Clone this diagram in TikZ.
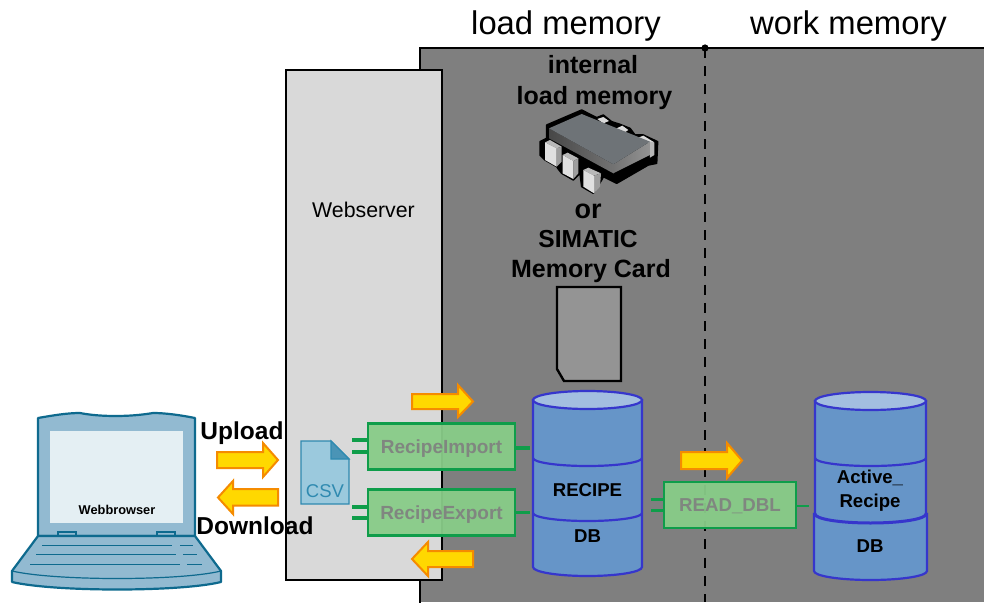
\documentclass[tikz,border=0pt]{standalone}
\usepackage{fontspec}
\setmainfont{Liberation Sans}
\usetikzlibrary{calc}
\definecolor{regiongrey}{HTML}{7F7F7F}
\definecolor{webgrey}{HTML}{D9D9D9}
\definecolor{laptopfill}{HTML}{92BAD1}
\definecolor{laptopline}{HTML}{0E6A8E}
\definecolor{screenfill}{HTML}{E4EFF3}
\definecolor{csvfill}{HTML}{9BC9DD}
\definecolor{csvline}{HTML}{2F8AB0}
\definecolor{csvfold}{HTML}{4A94B6}
\definecolor{arrowfill}{HTML}{FFD800}
\definecolor{arrowline}{HTML}{F58B00}
\definecolor{blockfill}{HTML}{88CC88}
\definecolor{blockline}{HTML}{0F9D4A}
\definecolor{blocktext}{HTML}{808680}
\definecolor{cylfill}{HTML}{6695C8}
\definecolor{cyltop}{HTML}{A3BEE0}
\definecolor{cylline}{HTML}{3636CC}
\definecolor{chiptop}{HTML}{6E7377}
\tikzset{
  x=1pt,y=-1pt,
  big/.style={font=\fontsize{32.8}{34}\selectfont,inner sep=0,text height=23.6pt,text depth=0pt},
  head/.style={font=\fontsize{25}{28}\selectfont\bfseries,inner sep=0,text height=18pt,text depth=0pt},
  arrowlab/.style={font=\fontsize{24.5}{26}\selectfont\bfseries,inner sep=0,text height=17.6pt,text depth=0pt},
  dblab/.style={font=\fontsize{18.6}{20}\selectfont\bfseries,inner sep=0,text height=13.4pt,text depth=0pt},
  block/.style={draw=blockline,line width=2.8pt,fill=blockfill,fill opacity=0.95,text opacity=1,
    text=blocktext,font=\fontsize{19}{21}\selectfont\bfseries,inner sep=0,minimum height=46pt,text height=13.7pt,text depth=0pt},
  stub/.style={draw=blockline,line width=3.6pt},
  yarrow/.style={draw=arrowline,fill=arrowfill,line width=2pt,line join=miter},
  cyl/.style={draw=cylline,fill=cylfill,line width=2.2pt},
  pinf/.style={fill=black!12!white,draw=none},
  pint/.style={fill=black!28!white,draw=none},
  pins/.style={fill=black!38!white,draw=none},
  lap/.style={draw=laptopline,fill=laptopfill,line width=2.2pt,line join=round},
  key/.style={draw=laptopline,line width=0.8pt}
}
\begin{document}
\begin{tikzpicture}
\path[use as bounding box] (0,0) rectangle (984,602);
\clip (0,0) rectangle (984,602);
\fill[white] (0,0) rectangle (984,602);
% memory region
\path[fill=regiongrey] (420,48) rectangle (984,602);
\draw[line width=2.5pt] (420,603) -- (420,48) -- (985,48);
\coordinate (dashtop) at (705,48);
\coordinate (dashbot) at (705,602);
\draw[line width=2.8pt,dash pattern=on 10pt off 8.2pt] (dashtop) -- (dashbot);
\fill (dashtop) circle (3.6pt);
\node[big] (loadm) at (566,23) {load memory};
\node[big] (workm) at (848.5,23) {work memory};
% webserver
\node[draw,line width=2.5pt,fill=webgrey,minimum width=156pt,minimum height=510pt,inner sep=0] (web) at (364,325) {};
\node[inner sep=0,font=\fontsize{21.3}{23}\selectfont,text height=15.3pt,text depth=0pt] (webl) at (363.5,210) {Webserver};
% heading
\node[head] (intl) at (593,65) {internal};
\node[head] (lml) at (594.5,95.5) {load memory};
\node[head,font=\fontsize{27}{28}\selectfont\bfseries] (orl) at (588,209) {or};
\node[head,font=\fontsize{24.6}{28}\selectfont\bfseries] (siml) at (588,238) {SIMATIC};
\node[head] (mcl) at (591,268.5) {Memory Card};
% chip
\begin{scope}[shift={(535,105)},x=0.3333pt,y=-0.3333pt]
\draw[black,fill=black,line width=1.5pt,line join=round] (35,60) -- (140,15) -- (185,38) -- (205,30) -- (230,50) -- (255,58) -- (285,70) -- (300,90) -- (325,90) -- (368,110) -- (365,175) -- (340,180) -- (245,235) -- (205,215) -- (200,225) -- (175,265) -- (140,245) -- (135,205) -- (115,225) -- (80,205) -- (72,195) -- (65,185) -- (30,165) -- (15,150) -- (15,110) -- (35,100) -- cycle;
% back pins
\fill[black!15!white] (187,42) -- (205,36) -- (222,48) -- (205,55) -- cycle;
\fill[black!15!white] (245,70) -- (262,62) -- (280,75) -- (265,85) -- cycle;
\fill[black!15!white] (310,98) -- (325,92) -- (358,112) -- (345,118) -- cycle;
\fill[black!28!white] (345,110) -- (358,113) -- (358,150) -- (345,158) -- cycle;
% front pins
\fill[pint] (30,112) -- (45,105) -- (80,125) -- (65,130) -- cycle;
\fill[pins] (65,130) -- (80,125) -- (80,170) -- (65,185) -- cycle;
\fill[pinf] (30,112) -- (65,130) -- (65,185) -- (30,165) -- cycle;
\fill[pint] (83,150) -- (98,143) -- (130,160) -- (115,168) -- cycle;
\fill[pins] (115,168) -- (130,160) -- (130,205) -- (115,222) -- cycle;
\fill[pinf] (83,150) -- (115,168) -- (115,222) -- (83,205) -- cycle;
\fill[pint] (145,195) -- (160,188) -- (198,205) -- (177,212) -- cycle;
\fill[pins] (177,212) -- (198,205) -- (195,245) -- (177,265) -- cycle;
\fill[pinf] (145,195) -- (177,212) -- (177,265) -- (145,245) -- cycle;
% body
\shade[left color=black!72!white,right color=black!55!white] (42,70) -- (235,178) -- (235,205) -- (42,100) -- cycle;
\shade[left color=black!55!white,right color=black!42!white] (235,178) -- (345,110) -- (345,150) -- (235,205) -- cycle;
\fill[chiptop] (42,70) -- (140,27) -- (345,110) -- (235,178) -- cycle;
\end{scope}
% card
\draw[line width=2.4pt,fill=black!42!white,line join=miter] (557,287) -- (621,287) -- (621,381) -- (564,381) -- (557,369) -- cycle;
% RECIPE cylinder
\path[cyl] (533,400) -- (533,567) arc[start angle=180,end angle=0,x radius=54.5,y radius=9] -- (642,400) -- cycle;
\draw[cylline,line width=2.2pt] (533,458) arc[start angle=180,end angle=0,x radius=54.5,y radius=8];
\draw[cylline,line width=2.2pt] (533,513) arc[start angle=180,end angle=0,x radius=54.5,y radius=8];
\path[cyl,fill=cyltop] (587.5,400) ellipse[x radius=54.5,y radius=9];
\node[dblab] (recipe) at (587.5,490) {RECIPE};
\node[dblab] (db1) at (587.5,536) {DB};
% Active cylinder
\path[cyl] (815,401) -- (815,514) -- (814,514) -- (814,571) arc[start angle=180,end angle=0,x radius=56.5,y radius=9] -- (927,514) -- (926,514) -- (926,401) -- cycle;
\draw[cylline,line width=2.2pt] (815,458) arc[start angle=180,end angle=0,x radius=55.5,y radius=8];
\draw[cylline,line width=3pt] (815,514) arc[start angle=180,end angle=0,x radius=55.5,y radius=9];
\path[cyl,fill=cyltop] (870.5,401) ellipse[x radius=55.5,y radius=9];
\node[dblab] (active) at (870,477) {Active\_};
\node[dblab] (recipe2) at (870,501) {Recipe};
\node[dblab] (db2) at (870,546) {DB};
% blocks
\node[block,minimum width=147pt] (imp) at (441.5,446.5) {RecipeImport};
\node[block,minimum width=147pt] (exp) at (441.5,512.5) {RecipeExport};
\node[block,minimum width=132pt,font=\fontsize{18.7}{21}\selectfont\bfseries] (rd) at (730,505) {READ\_DBL};
\draw[stub] ([yshift=6.5pt]imp.west) -- ++(-15,0);
\draw[stub] ([yshift=-5.5pt]imp.west) -- ++(-15,0);
\draw[stub] ([yshift=-1.5pt]imp.east) -- ++(14,0);
\draw[stub] ([yshift=5.5pt]exp.west) -- ++(-15,0);
\draw[stub] ([yshift=-5.5pt]exp.west) -- ++(-15,0);
\draw[stub] (exp.east) -- ++(14,0);
\draw[stub] ([yshift=5.5pt]rd.west) -- ++(-12,0);
\draw[stub] ([yshift=-5.5pt]rd.west) -- ++(-12,0);
\draw[stub,line width=2.6pt] ([yshift=-1pt]rd.east) -- ++(12,0);
% yellow arrows
\draw[yarrow] (217,452) -- (263,452) -- (263,443) -- (278,460) -- (263,477) -- (263,468) -- (217,468) -- cycle;
\draw[yarrow] (278,489) -- (233,489) -- (233,481) -- (218,497.5) -- (233,514) -- (233,505.5) -- (278,505.5) -- cycle;
\draw[yarrow] (412,394) -- (458,394) -- (458,385) -- (473,401.5) -- (458,417) -- (458,409) -- (412,409) -- cycle;
\draw[yarrow] (473,551) -- (428,551) -- (428,542) -- (412,559) -- (428,576) -- (428,567) -- (473,567) -- cycle;
\draw[yarrow] (681,452) -- (727,452) -- (727,443) -- (742,460.5) -- (727,478) -- (727,469) -- (681,469) -- cycle;
% csv
\draw[draw=csvline,fill=csvfill,line width=1.2pt] (301,441) -- (331,441) -- (349,459) -- (349,504) -- (301,504) -- cycle;
\draw[draw=csvline,fill=csvfold,line width=1.2pt] (331,441) -- (331,459) -- (349,459) -- cycle;
\node[inner sep=0,text=csvline,font=\fontsize{18.5}{20}\selectfont,text height=13.3pt,text depth=0pt] (csv) at (325,491) {CSV};
% laptop
\draw[lap] (38,418) .. controls (55,415) and (68,413) .. (80,413) .. controls (100,417) and (130,417) .. (153,413) .. controls (165,413) and (180,415) .. (195,418) -- (195,536) -- (38,536) -- cycle;
\fill[screenfill] (50,431) rectangle (183,523);
\draw[laptopline,line width=1.2pt] (58,536) -- (58,532) -- (76,532) -- (76,536);
\draw[laptopline,line width=1.2pt] (157,536) -- (157,532) -- (175,532) -- (175,536);
\draw[lap] (38,536) -- (195,536) -- (221,571) -- (221,582) .. controls (180,592) and (55,592) .. (12,582) -- (12,571) -- cycle;
\draw[laptopline,line width=1.2pt] (12,571) .. controls (55,581) and (180,581) .. (221,571);
\draw[key] (42,545) -- (172,545) (180,545) -- (193,545);
\draw[key] (36,554) -- (176,554) (183,554) -- (197,554);
\draw[key] (30,564) -- (180,564) (187,564) -- (202,564);
\node[inner sep=0,font=\fontsize{12.8}{14}\selectfont\bfseries,text height=9.2pt,text depth=0pt] (wb) at (117,510) {Webbrowser};
% arrow labels
\node[arrowlab] (up) at (242,431) {Upload};
\node[arrowlab] (down) at (255,526) {Download};
\end{tikzpicture}
\end{document}
